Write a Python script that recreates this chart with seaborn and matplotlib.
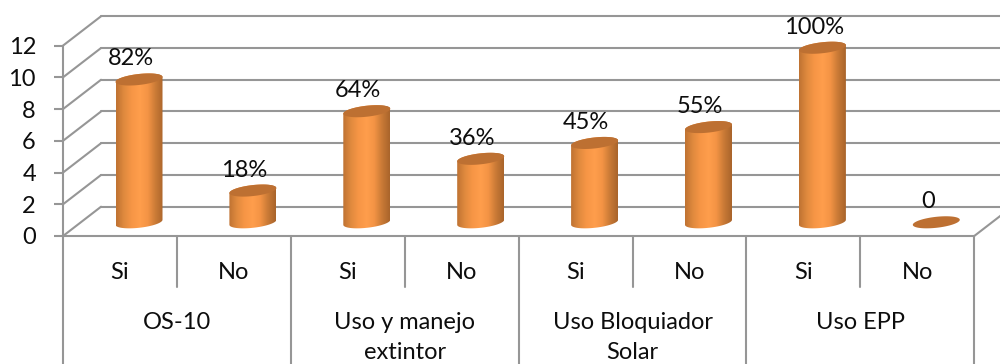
import numpy as np
import pandas as pd
import matplotlib
matplotlib.use("Agg")
import matplotlib.pyplot as plt
from matplotlib.colors import LinearSegmentedColormap
from matplotlib.path import Path
from matplotlib.patches import PathPatch
import seaborn as sns

# Survey results
groups = ["OS-10", "Uso y manejo\nextintor", "Uso Bloquiador\nSolar", "Uso EPP"]
answers = ["Si", "No", "Si", "No", "Si", "No", "Si", "No"]
values = [9, 2, 7, 4, 5, 6, 11, 0]
value_labels = ["82%", "18%", "64%", "36%", "45%", "55%", "100%", "0"]
y_ticks = [0, 2, 4, 6, 8, 10, 12]

# Scale of the data space on the 1000x364 canvas
PX_X = 113.9
PX_Y = 15.87
ORIGIN_X = 120.0
ORIGIN_Y = 236.0
DEPTH_X = 38 / PX_X
DEPTH_Y = 29.3 / PX_Y
BAR_W = 47 / PX_X
BAR_FLOOR = 13.7 / PX_Y
CAP_B = 5.5 / PX_Y
CAP_TILT = 2.5 / PX_Y
GRID = "#969696"
TEXT = "#0d0d0d"
FONT = "Lato"
FS = 17

sns.set_theme(style="white")
plt.rcParams["font.family"] = [FONT, "DejaVu Sans"]

fig = plt.figure(figsize=(10, 3.64), dpi=100)
ax = fig.add_axes([0, 0, 1, 1])

df = pd.DataFrame({"item": [f"{i}-{a}" for i, a in enumerate(answers)], "value": values})
sns.barplot(data=df, x="item", y="value", color="#f79646", width=BAR_W, ax=ax, zorder=3)

x_left = -0.5
x_right = len(values) - 0.5
y_bottom = -(364 - ORIGIN_Y) / PX_Y
ax.set_xlim(-ORIGIN_X / PX_X, (1000 - ORIGIN_X) / PX_X)
ax.set_ylim(y_bottom, ORIGIN_Y / PX_Y)
ax.set_xlabel("")
ax.set_ylabel("")
ax.patch.set_visible(False)

# Walls and gridlines
lw = 1.5
for v in y_ticks:
    ax.plot([x_left, x_left + DEPTH_X], [v, v + DEPTH_Y], color=GRID, lw=lw, zorder=1)
    ax.plot([x_left + DEPTH_X, ax.get_xlim()[1]], [v + DEPTH_Y] * 2, color=GRID, lw=lw, zorder=1)
ax.plot([x_right, x_right + DEPTH_X], [0, DEPTH_Y], color=GRID, lw=lw, zorder=1)

# Category table below the floor
ax.plot([x_left, x_right], [0, 0], color=GRID, lw=lw, zorder=1)
for i in range(len(values) + 1):
    edge = x_left + i
    lower = y_bottom if i % 2 == 0 else -3.2
    ax.plot([edge, edge], [lower, 0.0], color=GRID, lw=lw, zorder=1)

# Value axis and category ticks
for name, spine in ax.spines.items():
    spine.set_visible(False)
ax.spines["left"].set_visible(True)
ax.spines["left"].set_position(("data", x_left))
ax.spines["left"].set_bounds(0, 12)
ax.spines["left"].set_color(GRID)
ax.spines["left"].set_linewidth(lw)
ax.yaxis.set_ticks_position("left")
ax.set_yticks(y_ticks)
ax.tick_params(axis="y", left=True, length=6.5, width=lw, color=GRID, labelsize=FS,
               labelcolor=TEXT, pad=13)
ax.spines["bottom"].set_position(("data", 0))
ax.set_xticks(range(len(answers)))
ax.set_xticklabels(answers)
ax.tick_params(axis="x", bottom=False, labelsize=FS, labelcolor=TEXT, pad=13)

for i, g in enumerate(groups):
    ax.text(x_left + 1 + 2 * i, -4.8, g, ha="center", va="top", fontsize=FS,
            color=TEXT, linespacing=1.52)

# Cylinder shading
shade = LinearSegmentedColormap.from_list(
    "cyl", ["#bf7232", "#e08a3e", "#f79646", "#ff9e4c", "#f49445", "#c97a36", "#a9642b"])
gradient = np.linspace(0, 1, 128)[None, :]
t_top = np.linspace(0, 2 * np.pi, 80)

for bar, v, label in zip(list(ax.patches), values, value_labels):
    bar.set_x(bar.get_x() + DEPTH_X / 2)
    bar.set_y(BAR_FLOOR)
    x0, w = bar.get_x(), bar.get_width()
    cx, a = x0 + w / 2, w / 2
    base, top = bar.get_y(), bar.get_y() + bar.get_height()

    t_low = np.linspace(np.pi, 2 * np.pi, 40)
    t_up = np.linspace(0, np.pi, 40)
    xs = np.r_[cx + a * np.cos(t_low), cx + a * np.cos(t_up)]
    ys = np.r_[base + CAP_B * np.sin(t_low) + CAP_TILT * np.cos(t_low),
               top + CAP_B * np.sin(t_up) + CAP_TILT * np.cos(t_up)]
    body = Path(np.c_[xs, ys])
    if v > 0:
        im = ax.imshow(gradient, extent=[x0, x0 + w, base - 2, top + 2], aspect="auto",
                       cmap=shade, zorder=4, interpolation="bilinear")
        im.set_clip_path(PathPatch(body, transform=ax.transData))
    bar.set_visible(False)

    cap = np.c_[cx + a * np.cos(t_top),
                top + CAP_B * np.sin(t_top) + CAP_TILT * np.cos(t_top)]
    ax.fill(cap[:, 0], cap[:, 1], color="#bd7032", lw=0, zorder=5)
    ax.text(cx - 8.5 / PX_X, top + 20.5 / PX_Y, label, ha="center", va="center",
            fontsize=FS, color=TEXT, zorder=6)

ax.set_xlim(-ORIGIN_X / PX_X, (1000 - ORIGIN_X) / PX_X)
ax.set_ylim(y_bottom, ORIGIN_Y / PX_Y)

fig.savefig("out.png", dpi=100, facecolor="white")
